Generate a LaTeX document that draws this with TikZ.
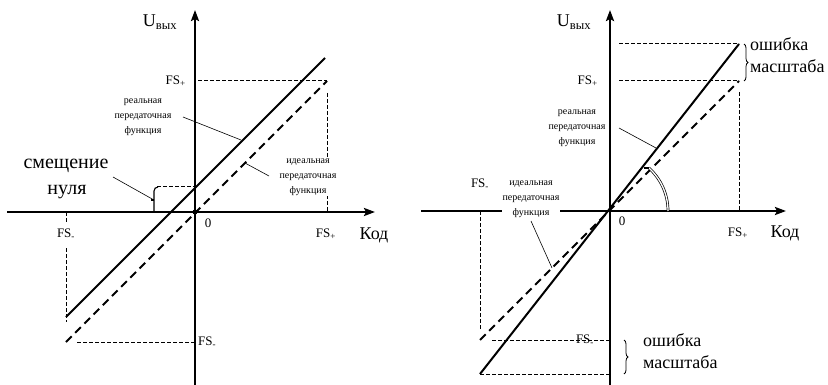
\documentclass[tikz,border=0pt]{standalone}
\usepackage{fontspec}
\setmainfont{Liberation Serif}
\usetikzlibrary{arrows.meta,decorations.pathreplacing}
\begin{document}
\begin{tikzpicture}[x=1pt,y=-1pt,
  axis/.style={line width=2.3pt,-{Stealth[length=11pt,width=8pt,inset=2pt]}},
  realf/.style={line width=2pt},
  idealf/.style={line width=2pt,dash pattern=on 8pt off 5pt},
  helper/.style={line width=1pt,dash pattern=on 4pt off 2pt},
  leader/.style={line width=0.6pt},
  lbl/.style={font=\rmfamily\fontsize{13}{15}\selectfont,inner sep=1pt},
  ulbl/.style={font=\rmfamily\fontsize{18}{20}\selectfont,inner sep=1pt},
  small/.style={font=\rmfamily\fontsize{10}{15}\selectfont,align=center,inner sep=1pt},
  big/.style={font=\rmfamily\fontsize{18}{22}\selectfont,inner sep=1pt},
  huge/.style={font=\rmfamily\fontsize{20}{24}\selectfont,inner sep=1pt},
  brace/.style={decorate,decoration={brace,amplitude=4pt},line width=0.8pt}]
\useasboundingbox (0,0) rectangle (828,385);

% ================= LEFT =================
\coordinate (O1) at (195,212);
\coordinate (xl1) at (7,212);
\coordinate (xr1) at (375,212);
\coordinate (yb1) at (195,385);
\coordinate (yt1) at (195,10);
% helper dashed lines
\draw[helper] (198,81) -- (327,81);
\draw[helper] (327,93) -- (327,212);
\draw[helper] (66,212) -- (66,222);
\draw[helper] (66,248) -- (66,322);
\draw[helper] (77,342) -- (195,342);
\draw[helper] (157,187) -- (195,187);
% axes
\draw[axis] (xl1) -- (xr1);
\draw[axis] (yb1) -- (yt1);
\fill (O1) circle (2.5pt);
% transfer functions
\coordinate (r1a) at (66,317);
\coordinate (r1b) at (325,58);
\coordinate (i1a) at (66,342);
\coordinate (i1b) at (327,81);
\draw[realf] (r1a) -- (r1b);
\draw[idealf] (i1a) -- (i1b);
% offset bracket
\draw[line width=1.1pt] (154,212) -- (154,191) to[out=90,in=180] (158,187);
\draw[line width=1.1pt] (154,200) -- (151,200);
% labels
\node[ulbl] (u1) at (160,22) {U\textsubscript{вых}};
\node[lbl,anchor=east] (fsp1) at (187,81) {FS\textsubscript{+}};
\node[lbl] (z1) at (208,223) {0};
\node[lbl] (fsm1) at (66,234) {FS\textsubscript{-}};
\node[lbl] (fsp1x) at (326,234) {FS\textsubscript{+}};
\node[big] (kod1) at (374,235) {Код};
\node[lbl,anchor=west] (fsm1y) at (197,342) {FS\textsubscript{-}};
\node[huge] (off1) at (66,166) {смещение};
\node[huge] (off2) at (67,192) {нуля};
\node[small] (real1) at (143,117) {реальная\\передаточная\\функция};
\node[small,fill=white] (ideal1) at (308,177) {идеальная\\передаточная\\функция};
\draw[leader] (113,177) -- (154,200);
\draw[leader] (183,117) -- (241,140);
\draw[leader] (245,163) -- (269,176);

% ================= RIGHT =================
\coordinate (O2) at (610,211);
\coordinate (xl2) at (421,211);
\coordinate (xr2) at (786,211);
\coordinate (yb2) at (610,385);
\coordinate (yt2) at (610,10);
\draw[helper] (619,44) -- (739,44);
\draw[helper] (619,81) -- (739,81);
\draw[helper] (739,92) -- (739,211);
\draw[helper] (480,211) -- (480,330);
\draw[helper] (492,340) -- (610,340);
\draw[helper] (480,374) -- (610,374);
\draw[axis] (xl2) -- (xr2);
\draw[axis] (yb2) -- (yt2);
\coordinate (r2a) at (480,374);
\coordinate (r2b) at (739,44);
\coordinate (i2a) at (480,340);
\coordinate (i2b) at (739,81);
\draw[realf] (r2a) -- (r2b);
\draw[idealf] (i2a) -- (i2b);
% angle arc
\draw[line width=0.7pt,double,double distance=1.3pt]
  plot[domain=0:48,samples=30] ({610+58*cos(\x)},{211-58*sin(\x)});
\draw[line width=1.4pt] ({610+58*cos(48)},{211-58*sin(48)}) -- ++(-5,0);
% labels
\node[ulbl] (u2) at (574,22) {U\textsubscript{вых}};
\node[lbl,anchor=east] (fsp2) at (599,81) {FS\textsubscript{+}};
\node[lbl] (z2) at (622,221) {0};
\node[lbl] (fsm2) at (480,184) {FS\textsubscript{-}};
\node[lbl] (fsp2x) at (738,233) {FS\textsubscript{+}};
\node[big] (kod2) at (785,233) {Код};
\node[lbl] (fsm2y) at (585,340) {FS\textsubscript{-}};
\node[small,fill=white] (real2) at (577,128) {реальная\\передаточная\\функция};
\node[small,fill=white] (ideal2) at (531,199) {идеальная\\передаточная\\функция};
\draw[leader] (619,128) -- (656,148);
\draw[leader] (531,221) -- (552,268);
\draw[brace] (744,44) -- (744,81);
\node[big,anchor=west,align=left] (err1) at (749,55) {ошибка\\масштаба};
\draw[brace] (624,340) -- (624,374);
\node[big,anchor=west,align=left] (err2) at (642,351) {ошибка\\масштаба};
\end{tikzpicture}
\end{document}
